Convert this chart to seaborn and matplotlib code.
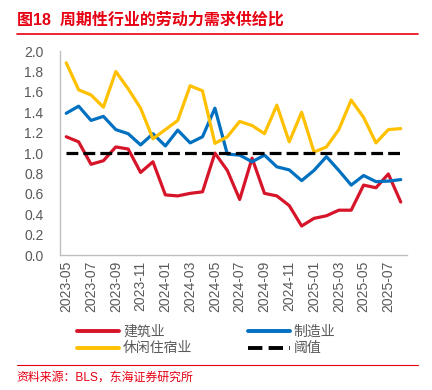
import numpy as np
import pandas as pd
import matplotlib
matplotlib.use("Agg")
import matplotlib.pyplot as plt
from matplotlib.lines import Line2D
import seaborn as sns

months = pd.period_range("2023-05", "2025-08", freq="M").strftime("%Y-%m").tolist()

construction = [1.16, 1.11, 0.89, 0.925, 1.06, 1.04, 0.81, 0.915, 0.59, 0.58,
                0.605, 0.62, 1.00, 0.83, 0.545, 0.95, 0.605, 0.58, 0.485, 0.285,
                0.36, 0.385, 0.44, 0.44, 0.686, 0.66, 0.795, 0.52]
manufacturing = [1.39, 1.46, 1.32, 1.36, 1.23, 1.19, 1.08, 1.19, 1.07, 1.225,
                 1.10, 1.16, 1.44, 0.99, 0.98, 0.915, 0.98, 0.865, 0.835, 0.73,
                 0.83, 0.965, 0.83, 0.686, 0.78, 0.72, 0.725, 0.74]
leisure = [1.885, 1.62, 1.57, 1.45, 1.80, 1.63, 1.44, 1.14, 1.23, 1.32,
           1.66, 1.61, 1.095, 1.16, 1.31, 1.27, 1.19, 1.47, 1.11, 1.40,
           1.01, 1.06, 1.23, 1.52, 1.35, 1.10, 1.23, 1.24]
threshold = [1.0] * len(months)

series_names = ["建筑业", "制造业", "休闲住宿业", "阈值"]
colors = ["#D7152A", "#0070C0", "#FFC000", "#000000"]

df = pd.DataFrame({
    "idx": np.arange(len(months)),
    "建筑业": construction,
    "制造业": manufacturing,
    "休闲住宿业": leisure,
    "阈值": threshold,
})

sns.set_style("white")
plt.rcParams["font.family"] = ["Liberation Sans", "Noto Sans CJK SC"]

fig = plt.figure(figsize=(4.32, 3.9), dpi=100)
ax = fig.add_axes([0.139, 0.346, 0.803, 0.523])

for name, c in zip(series_names, colors):
    ls = "--" if name == "阈值" else "-"
    sns.lineplot(data=df, x="idx", y=name, ax=ax, color=c, lw=2.3,
                 linestyle=ls, label=name, legend=False)

grey = "#595959"
ax.set_xlim(-0.5, len(months) - 0.5)
ax.set_ylim(0, 2.0)
ax.set_yticks(np.arange(0, 2.01, 0.2))
ax.set_yticklabels([f"{v:.1f}" for v in np.arange(0, 2.01, 0.2)], color=grey, fontsize=10)
ax.set_xticks(np.arange(0, len(months), 2))
ax.set_xticklabels(months[::2], rotation=90, color=grey, fontsize=10)
ax.set_xticks(np.arange(-0.5, len(months), 2), minor=True)
ax.tick_params(axis="x", which="major", length=0, pad=4)
ax.tick_params(axis="x", which="minor", length=4, color="#BFBFBF", direction="out")
ax.tick_params(axis="y", length=4, color="#BFBFBF", direction="out", pad=8)
ax.set_xlabel("")
ax.set_ylabel("")
for s in ["top", "right"]:
    ax.spines[s].set_visible(False)
for s in ["left", "bottom"]:
    ax.spines[s].set_color("#BFBFBF")
    ax.spines[s].set_linewidth(1)

# legend is filled row by row in the reference
handles = {n: Line2D([], [], color=c, lw=2.8, linestyle="--" if n == "阈值" else "-")
           for n, c in zip(series_names, colors)}
order = ["建筑业", "休闲住宿业", "制造业", "阈值"]
fig.legend([handles[n] for n in order], order, ncol=2, loc="center left",
           bbox_to_anchor=(0.15, 0.128), frameon=False, fontsize=10,
           handlelength=3.0, columnspacing=4.0, labelspacing=0.2,
           handletextpad=0.3, labelcolor=grey)

red = "#E60012"
fig.text(0.039, 0.949, "图18  周期性行业的劳动力需求供给比", color=red,
         fontsize=11.5, fontweight="bold", va="center", ha="left")
fig.add_artist(Line2D([0.039, 0.968], [0.913, 0.913], color=red, lw=1.2))
fig.add_artist(Line2D([0.039, 0.968], [0.064, 0.064], color=red, lw=0.8))
fig.text(0.039, 0.031, "资料来源：BLS，东海证券研究所", color=red,
         fontsize=8.6, va="center", ha="left")

fig.savefig("out.png", dpi=100)
